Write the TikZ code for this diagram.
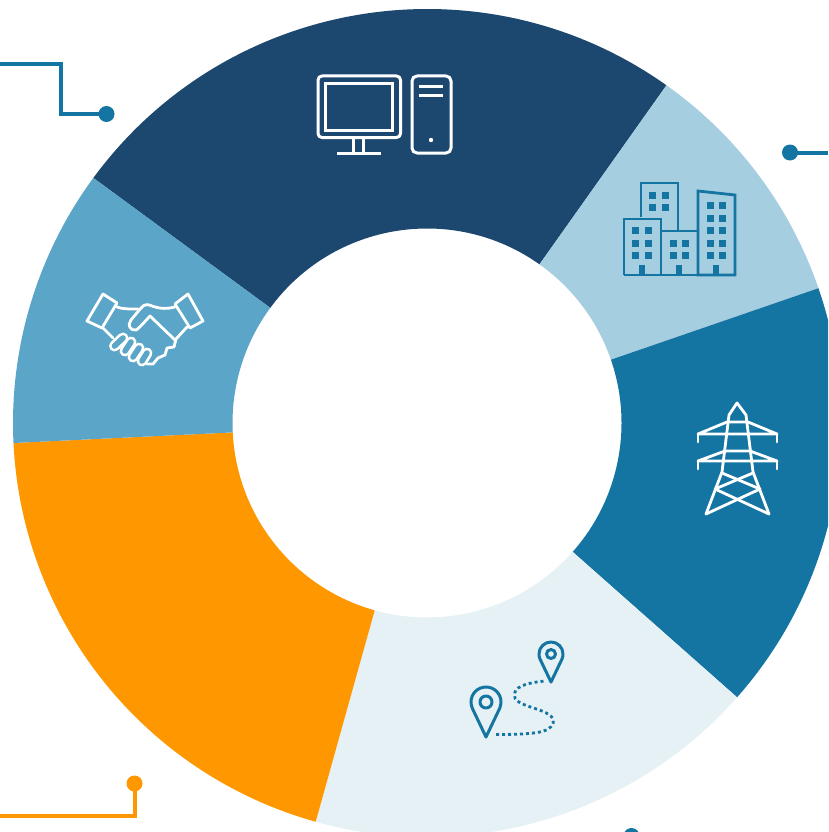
\documentclass[tikz,border=0pt]{standalone}
\definecolor{navy}{HTML}{1C4870}
\definecolor{skyl}{HTML}{A6CEE1}
\definecolor{teal2}{HTML}{1474A2}
\definecolor{pale}{HTML}{E5F1F5}
\definecolor{orng}{HTML}{FF9700}
\definecolor{midb}{HTML}{5AA5C8}
\newcommand{\wedgeseg}[3]{\fill[#1] (#2:414pt) arc[start angle=#2,end angle=#3,radius=414pt] -- (#3:194.5pt) arc[start angle=#3,end angle=#2,radius=194.5pt] -- cycle;}
\tikzset{
 icon/.style={line width=3pt,line join=round,line cap=round},
 wire/.style={line width=4pt,line join=miter}
}
\begin{document}
\begin{tikzpicture}[x=1pt,y=-1pt]
\useasboundingbox (0,0) rectangle (828,832);
\clip (0,0) rectangle (828,832);
\fill[white] (0,0) rectangle (828,832);
\begin{scope}[x=1pt,y=1pt,shift={(427pt,-423pt)}]
\wedgeseg{navy}{54.66}{143.7}
\wedgeseg{skyl}{19}{54.66}
\wedgeseg{teal2}{-41.5}{19}
\wedgeseg{pale}{-105.6}{-41.5}
\wedgeseg{orng}{-177.23}{-105.6}
\wedgeseg{midb}{143.7}{182.77}
\end{scope}
% connectors
\coordinate (a1) at (106.5,114); \coordinate (a2) at (790,152.5); \coordinate (a3) at (134.5,783.5);
\fill[teal2] (a1) circle[radius=8pt];
\fill[teal2] (a2) circle[radius=8pt];
\fill[orng] (a3) circle[radius=8pt];
\fill[teal2] (631.5,836) circle[radius=8pt];
\draw[wire,teal2] (0,64) -- (61,64) -- (61,114) -- (a1);
\draw[wire,teal2] (a2) -- (828,152.5);
\draw[wire,orng] (0,816) -- (134.5,816) -- (a3);
% computer
\begin{scope}[icon,white,draw=white]
\draw[rounded corners=4pt] (318,76) rectangle (400.5,137.5);
\draw[line cap=butt,line join=miter] (325,83.5) rectangle (392.5,130.5);
\draw (353.5,138) -- (353.5,153) (363.5,138) -- (363.5,153);
\draw[line cap=butt] (337,153) -- (381,153);
\draw[rounded corners=5pt] (412,76) rectangle (451,153);
\draw[line cap=butt] (419,87) -- (443,87) (419,96) -- (443,96);
\fill[white] (431,140) circle[radius=2.2pt];
\end{scope}
% buildings
\begin{scope}[line width=2.8pt,line join=miter]
\draw[teal2] (641,217) -- (641,183) -- (678,183) -- (678,231);
\draw[teal2] (624,275) -- (624,219) -- (661,219) -- (661,275);
\draw[teal2] (661,231) -- (698,231);
\draw[teal2] (698,275) -- (698,191) -- (735,195) -- (735,275) -- cycle;
\draw[teal2] (624,275) -- (698,275);
\end{scope}
\foreach \x/\y in {652/195,665/195,652/207,665/207,635/230,648/230,635/243,648/243,635/255,648/255,673/243,685/243,673/255,685/255,710/205,722/205,710/218,722/218,710/230,722/230,710/243,722/243,710/255,722/255}
 \fill[teal2] (\x-3.5,\y-3.5) rectangle (\x+3.5,\y+3.5);
\foreach \x in {642,679,716}
 \fill[teal2] (\x-3,265) rectangle (\x+3,276);
% pylon
\begin{scope}[line width=2.8pt,line join=round,line cap=round,white]
\draw (706,514) -- (722,472) -- (729,415) -- (737,403) -- (746,415) -- (753,472) -- (769,514);
\draw (728,422) -- (747,422) (727,422) -- (698,434) -- (777,434) -- (748,422);
\draw (698,434) -- (698,442) (777,434) -- (777,442);
\draw (725,451) -- (750,451) (725,451) -- (698,461) -- (777,461) -- (750,451);
\draw (698,461) -- (698,469) (777,461) -- (777,469);
\draw (722,473) -- (760,489) -- (706,514);
\draw (753,473) -- (715,489) -- (769,514);
\end{scope}
% pins
\begin{scope}[line width=3pt,line join=round]
\draw[teal2] (486,737) -- (472.4,708.5) .. controls (471.5,706.5) and (471,704) .. (471,702) .. controls (471,693.7) and (477.7,687) .. (486,687) .. controls (494.3,687) and (501,693.7) .. (501,702) .. controls (501,704) and (500.5,706.5) .. (499.6,708.5) -- cycle;
\draw[teal2] (486,702) circle[radius=6pt];
\draw[teal2] (551,682) -- (540,659) .. controls (539.3,657.5) and (539,655.7) .. (539,654) .. controls (539,647.4) and (544.4,642) .. (551,642) .. controls (557.6,642) and (563,647.4) .. (563,654) .. controls (563,655.7) and (562.7,657.5) .. (562,659) -- cycle;
\draw[teal2] (551,654) circle[radius=4.5pt];
\draw[teal2,line width=2.8pt,dash pattern=on 3pt off 3pt] (496,734.5) .. controls (515,734.5) and (530,734) .. (540,732) .. controls (550,730) and (555,724) .. (553,719) .. controls (550,712) and (535,709) .. (525,705) .. controls (515,701) and (512,697) .. (516,690) .. controls (521,684) and (535,682) .. (545,681);
\end{scope}
% handshake
\begin{scope}[line width=2.8pt,white,line join=round,line cap=round]
\draw (103,294) -- (117,303) -- (102,328) -- (87,321) -- cycle;
\draw (188,294) -- (175,304) -- (190,328) -- (203,321) -- cycle;
\draw (117,307) .. controls (122,309) and (128,309) .. (138,309);
\draw (175,307) .. controls (168,309) and (160,309) .. (152,306) .. controls (148,304) and (144,304) .. (141,308) -- (131,320) .. controls (127,325) and (130,331) .. (136,330) .. controls (138,329) and (140,327) .. (150,316) -- (175,340);
\draw (187,327) -- (176,339) -- (174,347) -- (167,348) -- (165,355) -- (158,358) -- (153,364) -- (147,364);
\draw (102,327) -- (113,338);
\foreach \ax/\ay/\bx/\by in {142/361/147/353,133/357/139/348,125/351/131/342,114.5/346/123/338}{
 \draw[line width=11pt] (\ax,\ay) -- (\bx,\by);
 \draw[midb,line width=5.6pt] (\ax,\ay) -- (\bx,\by);
}
\end{scope}
\end{tikzpicture}
\end{document}
